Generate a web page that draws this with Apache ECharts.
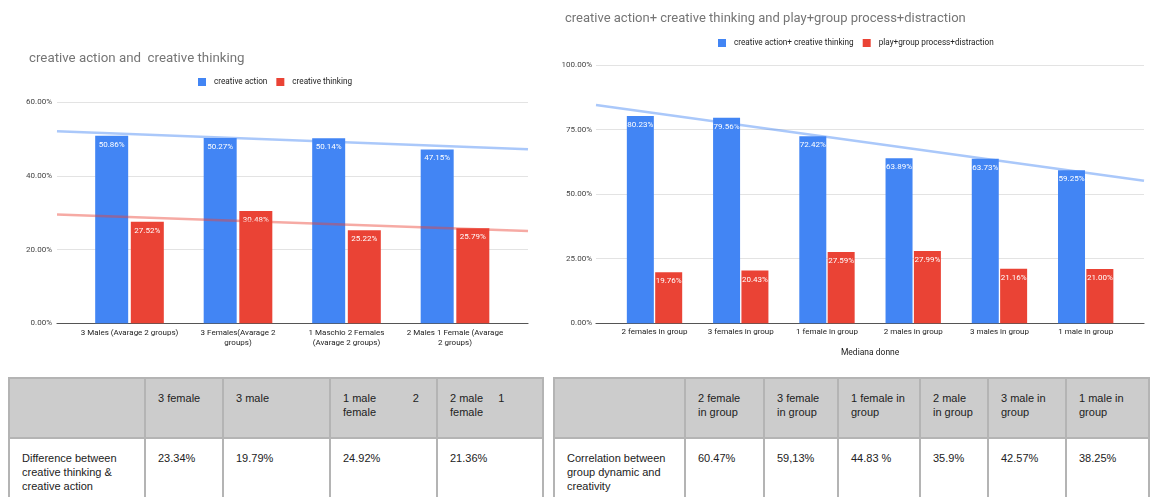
<!DOCTYPE html>
<html>
<head>
<meta charset="utf-8">
<script src="https://cdn.jsdelivr.net/npm/echarts@6/dist/echarts.min.js"></script>
<style>
  html, body { margin: 0; padding: 0; background: #fff; width: 1150px; height: 497px; overflow: hidden; }
  #chart { position: absolute; left: 0; top: 0; width: 1150px; height: 376px; }
  table.t { position: absolute; top: 377px; border-collapse: collapse; font-family: 'Liberation Sans', Arial, sans-serif; font-size: 11px; color: #222; table-layout: fixed; }
  table.t td { border: 2px solid #b4b4b4; vertical-align: top; padding: 12px 6px 0 12px; line-height: 14px; }
  table.t tr.h td { background: #cccccc; height: 46px; white-space: pre; }
  table.t tr.d td { background: #fff; height: 60px; }
</style>
</head>
<body>
<div id="chart"></div>
<table class="t" id="tLeft" style="left:8px;"></table>
<table class="t" id="tRight" style="left:553px;"></table>
<script>
// ---------- Left chart data ----------
const leftCategories = ['3 Males (Avarage 2 groups)', '3 Females(Avarage 2\ngroups)', '1 Maschio 2 Females\n(Avarage 2 groups)', '2 Males 1 Female (Avarage\n2 groups)'];
const creativeAction = [50.86, 50.27, 50.14, 47.15];
const creativeThinking = [27.52, 30.48, 25.22, 25.79];
const leftTrendX = [-0.67, 3.67];
const actionTrend = [52.1, 47.2];
const thinkingTrend = [29.5, 25.0];

// ---------- Right chart data ----------
const rightCategories = ['2 females in group', '3 females in group', '1 female in group', '2 males in group', '3 males in group', '1 male in group'];
const combinedCreative = [80.23, 79.56, 72.42, 63.89, 63.73, 59.25];
const playGroup = [19.76, 20.43, 27.59, 27.99, 21.16, 21.00];
const rightTrendX = [-0.68, 5.68];
const combinedTrend = [84.5, 55.2];

// ---------- Table data ----------
const diffHeaders = ['', '3 female', '3 male', '1 male            2\nfemale', '2 male     1\nfemale'];
const diffRowLabel = 'Difference between\ncreative thinking &\ncreative action';
const diffValues = ['23.34%', '19.79%', '24.92%', '21.36%'];
const diffColWidths = [136, 78, 107, 107, 106];

const corrHeaders = ['', '2 female\nin group', '3 female\nin group', '1 female in\ngroup', '2 male\nin group', '3 male in\ngroup', '1 male in\ngroup'];
const corrRowLabel = 'Correlation between\ngroup dynamic and\ncreativity';
const corrValues = ['60.47%', '59,13%', '44.83 %', '35.9%', '42.57%', '38.25%'];
const corrColWidths = [131, 79, 74, 82, 68, 78, 83];

function esc(s) { return s.replace(/&/g, '&amp;').replace(/</g, '&lt;'); }
function buildTable(id, headers, label, values, widths) {
  const el = document.getElementById(id);
  let html = '<colgroup>' + widths.map(w => '<col style="width:' + w + 'px">').join('') + '</colgroup>';
  html += '<tr class="h">' + headers.map(h => '<td>' + esc(h) + '</td>').join('') + '</tr>';
  html += '<tr class="d"><td>' + esc(label).replace(/\n/g, '<br>') + '</td>' + values.map(v => '<td>' + esc(v) + '</td>').join('') + '</tr>';
  el.innerHTML = html;
  el.style.width = widths.reduce((a, b) => a + b, 0) + 'px';
}
buildTable('tLeft', diffHeaders, diffRowLabel, diffValues, diffColWidths);
buildTable('tRight', corrHeaders, corrRowLabel, corrValues, corrColWidths);

// ---------- Chart ----------
const BLUE = '#4285f4', RED = '#ea4335';
const FONT = 'Roboto, Arial, sans-serif';
const pct = v => (typeof v === 'object' ? v.value : v).toFixed(2) + '%';
const barLabel = { show: true, position: 'insideTop', distance: 5, color: '#fff', fontSize: 8, fontFamily: FONT, formatter: p => pct(p.value) };

const chart = echarts.init(document.getElementById('chart'), null, { renderer: 'canvas' });
chart.setOption({
  animation: false,
  textStyle: { fontFamily: FONT },
  title: [
    { text: 'creative action and  creative thinking', left: 24, top: 47, textStyle: { fontSize: 13.3, fontWeight: 'normal', color: '#757575', fontFamily: FONT } },
    { text: 'creative action+ creative thinking and play+group process+distraction', left: 560, top: 7, textStyle: { fontSize: 13, fontWeight: 'normal', color: '#757575', fontFamily: FONT } }
  ],
  legend: [
    { data: ['creative action', 'creative thinking'], left: 193, top: 73, icon: 'rect', itemWidth: 8, itemHeight: 8, itemGap: 9,
      textStyle: { fontSize: 8.2, color: '#222', padding: [0, 0, 0, 3] } },
    { data: ['creative action+ creative thinking', 'play+group process+distraction'], left: 713, top: 34, icon: 'rect', itemWidth: 8, itemHeight: 8, itemGap: 9,
      textStyle: { fontSize: 8.2, color: '#222', padding: [0, 0, 0, 3] } }
  ],
  grid: [
    { left: 57, top: 102, width: 471, height: 221.3 },
    { left: 75.25, top: 102, width: 434, height: 221.3 },
    { left: 596, top: 65, width: 548, height: 258.3 },
    { left: 611.4, top: 65, width: 517.4, height: 258.3 }
  ],
  xAxis: [
    { gridIndex: 0, type: 'value', min: leftTrendX[0], max: leftTrendX[1], axisLabel: { show: false }, axisTick: { show: false }, splitLine: { show: false },
      axisLine: { show: true, onZero: false, lineStyle: { color: '#555', width: 1.2 } } },
    { gridIndex: 1, type: 'category', data: leftCategories, axisLine: { show: false }, axisTick: { show: false },
      axisLabel: { fontSize: 8, color: '#222', margin: 5, lineHeight: 10, interval: 0 } },
    { gridIndex: 2, type: 'value', min: rightTrendX[0], max: rightTrendX[1], axisLabel: { show: false }, axisTick: { show: false }, splitLine: { show: false },
      axisLine: { show: true, onZero: false, lineStyle: { color: '#555', width: 1.2 } } },
    { gridIndex: 3, type: 'category', data: rightCategories, axisLine: { show: false }, axisTick: { show: false },
      axisLabel: { fontSize: 8, color: '#222', margin: 5, interval: 0 },
      name: 'Mediana donne', nameLocation: 'middle', nameGap: 25, nameTextStyle: { fontSize: 8.5, color: '#222' } }
  ],
  yAxis: [
    { gridIndex: 0, type: 'value', min: 0, max: 60, interval: 20, axisLine: { show: false }, axisTick: { show: false },
      axisLabel: { fontSize: 8, color: '#444', margin: 5, formatter: v => v.toFixed(2) + '%' },
      splitLine: { lineStyle: { color: '#e3e3e3', width: 1.2 } } },
    { gridIndex: 1, type: 'value', min: 0, max: 60, show: false },
    { gridIndex: 2, type: 'value', min: 0, max: 100, interval: 25, axisLine: { show: false }, axisTick: { show: false },
      axisLabel: { fontSize: 8, color: '#444', margin: 4, formatter: v => v.toFixed(2) + '%' },
      splitLine: { lineStyle: { color: '#e3e3e3', width: 1.2 } } },
    { gridIndex: 3, type: 'value', min: 0, max: 100, show: false }
  ],
  series: [
    { name: 'creative action', type: 'bar', xAxisIndex: 1, yAxisIndex: 1, data: creativeAction, barWidth: 33, barGap: '8%', itemStyle: { color: BLUE }, label: barLabel, z: 3 },
    { name: 'creative thinking', type: 'bar', xAxisIndex: 1, yAxisIndex: 1, data: creativeThinking, barWidth: 33, barGap: '8%', itemStyle: { color: RED }, label: barLabel, z: 3 },
    { name: 'trend action', type: 'line', xAxisIndex: 0, yAxisIndex: 0, data: leftTrendX.map((x, i) => [x, actionTrend[i]]), symbol: 'none', silent: true,
      lineStyle: { color: 'rgba(66,133,244,0.45)', width: 2.5 }, z: 5 },
    { name: 'trend thinking', type: 'line', xAxisIndex: 0, yAxisIndex: 0, data: leftTrendX.map((x, i) => [x, thinkingTrend[i]]), symbol: 'none', silent: true,
      lineStyle: { color: 'rgba(234,67,53,0.45)', width: 2.5 }, z: 5 },
    { name: 'creative action+ creative thinking', type: 'bar', xAxisIndex: 3, yAxisIndex: 3, data: combinedCreative, barWidth: 27, barGap: '5%', itemStyle: { color: BLUE }, label: barLabel, z: 3 },
    { name: 'play+group process+distraction', type: 'bar', xAxisIndex: 3, yAxisIndex: 3, data: playGroup, barWidth: 27, barGap: '5%', itemStyle: { color: RED }, label: barLabel, z: 3 },
    { name: 'trend combined', type: 'line', xAxisIndex: 2, yAxisIndex: 2, data: rightTrendX.map((x, i) => [x, combinedTrend[i]]), symbol: 'none', silent: true,
      lineStyle: { color: 'rgba(66,133,244,0.45)', width: 2.5 }, z: 5 }
  ]
});
</script>
</body>
</html>
